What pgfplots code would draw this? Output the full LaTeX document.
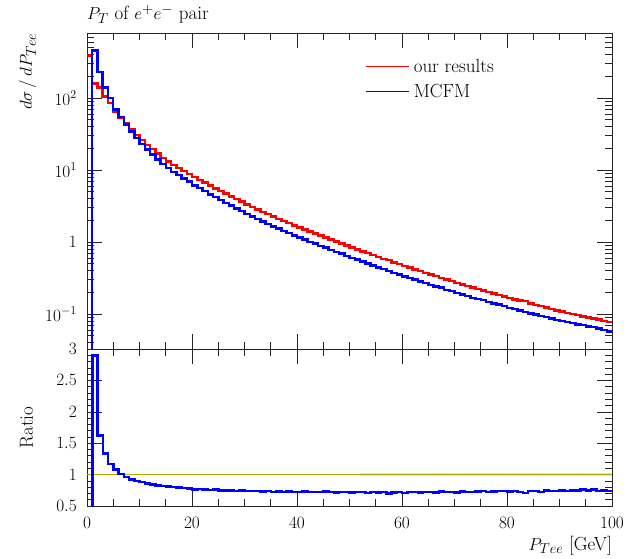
\documentclass[border=0pt]{standalone}
\usepackage{pgfplots}
\pgfplotsset{compat=1.18}
\usepackage{pgfplotstable}
\pgfplotstableread{
x red blue ratio
0 389 0.001 0
1 158.5 459.7 2.90
2 141 229.1 1.625
3 104.7 140.3 1.34
4 85.1 99.6 1.17
5 64.6 69.8 1.08
6 53.7 54.2 1.01
7 44.7 42.9 0.96
8 37.2 34.4 0.925
9 30.9 27.8 0.90
10 26.3 23.1 0.88
11 22.4 19.3 0.86
12 19.5 16.5 0.845
13 17.0 14.1 0.83
14 14.8 12.1 0.82
15 13.2 10.7 0.81
16 11.75 9.40 0.80
17 10.67 8.48 0.795
18 9.69 7.61 0.785
19 8.82 6.88 0.78
20 8.03 6.14 0.765
21 7.32 5.64 0.77
22 6.68 5.08 0.76
23 6.11 4.61 0.755
24 5.58 4.24 0.76
25 5.11 3.83 0.75
26 4.69 3.49 0.745
27 4.30 3.225 0.75
28 3.95 2.92 0.74
29 3.63 2.70 0.745
30 3.34 2.455 0.735
31 3.08 2.28 0.74
32 2.85 2.095 0.735
33 2.63 1.92 0.73
34 2.44 1.793 0.735
35 2.26 1.639 0.725
36 2.10 1.533 0.73
37 1.957 1.419 0.725
38 1.825 1.332 0.73
39 1.704 1.227 0.72
40 1.594 1.156 0.725
41 1.492 1.089 0.73
42 1.397 1.006 0.72
43 1.308 0.948 0.725
44 1.226 0.883 0.72
45 1.149 0.839 0.73
46 1.078 0.776 0.72
47 1.012 0.724 0.715
48 0.950 0.689 0.725
49 0.892 0.642 0.72
50 0.839 0.600 0.715
51 0.788 0.571 0.725
52 0.742 0.534 0.72
53 0.706 0.501 0.71
54 0.658 0.474 0.72
55 0.620 0.443 0.715
56 0.584 0.423 0.725
57 0.565 0.396 0.70
58 0.520 0.372 0.715
59 0.492 0.354 0.72
60 0.465 0.330 0.71
61 0.440 0.319 0.725
62 0.416 0.2995 0.72
63 0.394 0.2817 0.715
64 0.373 0.2704 0.725
65 0.353 0.2542 0.72
66 0.335 0.2395 0.715
67 0.318 0.2321 0.73
68 0.301 0.2167 0.72
69 0.286 0.2074 0.725
70 0.272 0.1945 0.715
71 0.258 0.1883 0.73
72 0.2455 0.1780 0.725
73 0.2334 0.1680 0.72
74 0.2222 0.1622 0.73
75 0.2115 0.1555 0.735
76 0.2015 0.1461 0.725
77 0.1920 0.1402 0.73
78 0.1831 0.1355 0.74
79 0.1747 0.1284 0.735
80 0.1668 0.1218 0.73
81 0.1593 0.1179 0.74
82 0.1554 0.1119 0.72
83 0.1506 0.1069 0.71
84 0.1393 0.1024 0.735
85 0.1333 0.0986 0.74
86 0.1300 0.0942 0.725
87 0.1225 0.0913 0.745
88 0.1175 0.0870 0.74
89 0.1128 0.0829 0.735
90 0.1083 0.0807 0.745
91 0.1041 0.0770 0.74
92 0.1002 0.0752 0.75
93 0.0965 0.0719 0.745
94 0.0929 0.0706 0.76
95 0.0896 0.0672 0.75
96 0.0864 0.0661 0.765
97 0.0845 0.0625 0.74
98 0.0804 0.0599 0.745
99 0.0777 0.0575 0.74
100 0.0777 0.0575 0.74
}\histdata
\definecolor{refolive}{RGB}{175,170,0}
\definecolor{refyellow}{RGB}{255,255,0}
\begin{document}
\begin{tikzpicture}
\useasboundingbox (-87pt,-52pt) rectangle (552pt,506pt);
\pgfplotsset{
  every axis/.append style={
    font=\fontsize{19}{23}\selectfont,
    tick label style={font=\fontsize{18}{21}\selectfont},
    scale only axis, width=525pt,
    xmin=0, xmax=100,
    axis line style={line width=0.6pt, black!85},
    every tick/.style={black!85, line width=0.6pt},
    major tick length=15pt, minor tick length=7pt,
    tick align=inside,
    xtick={0,20,...,100}, minor x tick num=3,
  }
}
\begin{axis}[
  name=upper, at={(0,157pt)}, anchor=south west, height=316pt,
  ymode=log, ymin=0.0327, ymax=800,
  xticklabels={},
  ytick={0.1,1,10,100},
  yticklabels={$10^{-1}$,$1$,$10^{1}$,$10^{2}$},
  minor ytick={0.04,0.05,0.06,0.07,0.08,0.09,0.2,0.3,0.4,0.5,0.6,0.7,0.8,0.9,2,3,4,5,6,7,8,9,20,30,40,50,60,70,80,90,200,300,400,500,600,700,800},
  yticklabel style={anchor=east, inner sep=0pt, xshift=-10pt},
  legend cell align=left,
  legend style={draw=none, fill=none, at={(0.5295,0.93)}, anchor=north west,
    inner sep=0pt, row sep=2pt, nodes={inner sep=4pt}},
  legend image code/.code={\draw[#1, line width=1.6pt] (0pt,0pt) -- (43pt,0pt);},
]
\addplot[red, line width=2.5pt, const plot mark left] table[x=x,y=red]{\histdata};
\addlegendentry{our results}
\addplot[blue, line width=2.5pt, const plot mark left] table[x=x,y=blue]{\histdata};
\addlegendentry{MCFM}
\end{axis}
\begin{axis}[
  name=lower, at={(0,0)}, anchor=south west, height=157pt,
  ymin=0.5, ymax=3,
  ytick={0.5,1,1.5,2,2.5,3}, minor y tick num=4,
  yticklabels={$0.5$,$1$,$1.5$,$2$,$2.5$,$3$},
  yticklabel style={anchor=east, inner sep=0pt, xshift=-10pt},
  xticklabel style={anchor=base, yshift=-22pt},
]
\addplot[draw=none, fill=refyellow] coordinates {(52,0.975) (100,0.975) (100,1.025) (52,1.025)} -- cycle;
\addplot[refolive, line width=0.8pt] coordinates {(0,1) (100,1)};
\addplot[blue, line width=2.5pt, const plot mark left] table[x=x,y=ratio]{\histdata};
\end{axis}
\begin{scope}[font=\fontsize{19}{23}\selectfont]
\node[anchor=base west, inner sep=0pt] at (0pt,486pt) {$P_T$ of $e^+e^-$ pair};
\node[rotate=90, anchor=base east, inner sep=0pt] at (-55pt,473pt) {$d\sigma\,/\,dP_{Tee}$};
\node[rotate=90, anchor=base, inner sep=0pt] at (-54pt,78.5pt) {Ratio};
\node[anchor=base east, inner sep=0pt] at (525pt,-44pt) {$P_{Tee}$ [GeV]};
\end{scope}
\end{tikzpicture}
\end{document}
